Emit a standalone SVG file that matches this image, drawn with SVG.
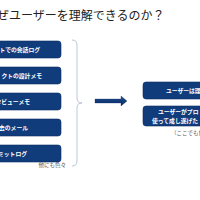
<svg xmlns="http://www.w3.org/2000/svg" width="200" height="200" viewBox="0 0 200 200">
<defs>
<linearGradient id="ag" x1="0" y1="0" x2="0" y2="1">
<stop offset="0" stop-color="#2f5597"/>
<stop offset="0.5" stop-color="#123a7a"/>
<stop offset="1" stop-color="#0b2b5f"/>
</linearGradient>
</defs>
<style>
.box{fill:#113c7c;stroke:#0a2d63;stroke-width:0.6}
.bt{font-family:"Noto Sans CJK JP","Noto Sans",sans-serif;font-weight:bold;font-size:5.8px;fill:#ffffff}
.title{font-family:"Noto Sans CJK JP","Noto Sans",sans-serif;font-size:12px;fill:#222222}
.note{font-family:"Noto Sans CJK JP","Noto Sans",sans-serif;font-size:5.5px;fill:#555555}
</style>
<rect width="200" height="200" fill="#ffffff"/>
<text class="title" x="-3" y="19.5">ぜユーザーを理解できるのか？</text>
<g id="src1"><rect class="box" x="-40" y="41" width="101" height="17" rx="3"/><text class="bt" x="40" y="51.5" text-anchor="end">トでの会話ログ</text></g>
<g id="src2"><rect class="box" x="-40" y="67" width="101" height="17" rx="3"/><text class="bt" x="42" y="77.5" text-anchor="end">クトの設計メモ</text></g>
<g id="src3"><rect class="box" x="-40" y="93" width="101" height="17" rx="3"/><text class="bt" x="30" y="103.5" text-anchor="end">タビューメモ</text></g>
<g id="src4"><rect class="box" x="-40" y="119" width="101" height="17" rx="3"/><text class="bt" x="28" y="129.5" text-anchor="end">去のメール</text></g>
<g id="src5"><rect class="box" x="-40" y="145" width="101" height="17" rx="3"/><text class="bt" x="27" y="155.5" text-anchor="end">ミットログ</text></g>
<text class="note" x="66" y="167" text-anchor="end">他にも色々</text>
<g id="connectors">
<path d="M72 40 Q77 40 77 45 L77 98 Q77 103 82 103 Q77 103 77 108 L77 161 Q77 166 72 166" fill="none" stroke="#b4c0d4" stroke-width="0.9"/>
<polygon points="95,99 121,99 121,96 127,101 121,106 121,103 95,103" fill="url(#ag)" stroke="#0b2b5f" stroke-width="0.3"/>
</g>
<g id="res1"><rect class="box" x="143" y="82" width="70" height="17" rx="3"/><text class="bt" x="166" y="92.5">ユーザーは理</text></g>
<g id="res2"><rect class="box" x="143" y="106" width="70" height="20" rx="3"/><text class="bt" x="158" y="114">ユーザーがプロ</text><text class="bt" x="152" y="123">使って成し遂げた</text></g>
<text class="note" x="171" y="134.5">（ここでも色</text>
</svg>
